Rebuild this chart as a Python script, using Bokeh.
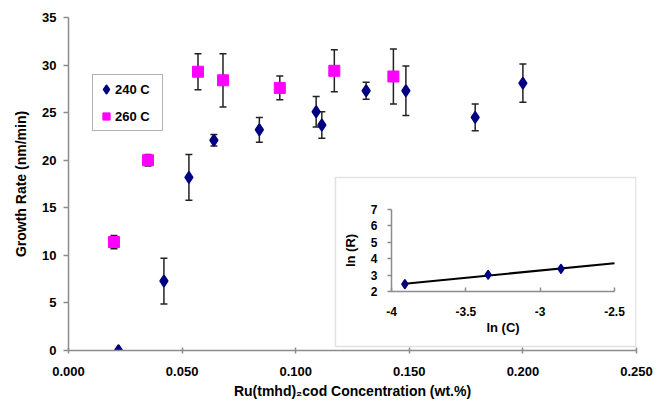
import numpy as np
from bokeh.plotting import figure
from bokeh.models import (Range1d, LinearAxis, FixedTicker, NumeralTickFormatter, Whisker,
                          TeeHead, ColumnDataSource, BoxAnnotation, Legend, LegendItem)
from bokeh.embed import file_html
from bokeh.resources import INLINE

# ---------------- data ----------------
conc_240 = [0.022, 0.042, 0.053, 0.064, 0.084, 0.109, 0.1115, 0.131, 0.1485, 0.179, 0.200]
rate_240 = [0.0, 7.3, 18.2, 22.1, 23.2, 25.1, 23.7, 27.3, 27.3, 24.5, 28.1]
err_240 = [0.0, 2.4, 2.4, 0.6, 1.3, 1.6, 1.4, 0.9, 2.6, 1.4, 2.0]

conc_260 = [0.020, 0.035, 0.057, 0.068, 0.093, 0.117, 0.143]
rate_260 = [11.4, 20.0, 29.3, 28.4, 27.6, 29.4, 28.8]
err_260 = [0.7, 0.6, 1.9, 2.8, 1.25, 2.2, 2.9]

x_ticks = [0.0, 0.05, 0.10, 0.15, 0.20, 0.25]
y_ticks = [0, 5, 10, 15, 20, 25, 30, 35]

# inset: ln(R) vs ln(C)
ln_c = [-3.91, -3.35, -2.86]
ln_r = [2.45, 3.02, 3.38]
inset_x_ticks = [-4, -3.5, -3, -2.5]
inset_y_ticks = [2, 3, 4, 5, 6, 7]
trend_end = -2.5

FONT = "Liberation Sans"
NAVY = "#000080"
MAGENTA = "#FF00FF"
AXIS_GREY = "#8c8c8c"

p = figure(width=659, height=405, output_backend="svg", toolbar_location=None,
           x_range=Range1d(0, 0.25), y_range=Range1d(0, 35),
           min_border_left=68, min_border_right=23, min_border_top=17, min_border_bottom=55)
p.outline_line_color = None
p.grid.visible = False
p.background_fill_color = "white"

# inset coordinate system mapped over the whole frame
p.extra_x_ranges = {"ix": Range1d(-6.1726, -2.352)}
p.extra_y_ranges = {"iy": Range1d(-1.598, 18.707)}

# main axes
xa = p.xaxis[0]
xa.ticker = FixedTicker(ticks=x_ticks)
xa.formatter = NumeralTickFormatter(format="0.000")
xa.axis_label = "Ru(tmhd)\u2082cod Concentration (wt.%)"
ya = p.yaxis[0]
ya.ticker = FixedTicker(ticks=y_ticks)
ya.axis_label = "Growth Rate (nm/min)"
for ax in (xa, ya):
    ax.axis_line_color = AXIS_GREY
    ax.axis_line_width = 1.5
    ax.major_tick_line_color = AXIS_GREY
    ax.major_tick_line_width = 1.5
    ax.minor_tick_line_color = None
    ax.major_label_text_font = FONT
    ax.major_label_text_font_style = "bold"
    ax.major_label_text_font_size = "13px"
    ax.major_label_text_color = "black"
    ax.axis_label_text_font = FONT
    ax.axis_label_text_font_style = "bold"
    ax.axis_label_text_font_size = "14px"
    ax.axis_label_text_color = "black"
xa.major_tick_in = 3
xa.major_tick_out = 3
xa.major_label_standoff = 13
xa.axis_label_standoff = 4
ya.major_tick_in = 0
ya.major_tick_out = 5
ya.major_label_standoff = 7
ya.axis_label_standoff = 10

# error bars
src240 = ColumnDataSource(dict(x=conc_240, y=rate_240,
                               up=[r + e for r, e in zip(rate_240, err_240)],
                               lo=[r - e for r, e in zip(rate_240, err_240)]))
src260 = ColumnDataSource(dict(x=conc_260, y=rate_260,
                               up=[r + e for r, e in zip(rate_260, err_260)],
                               lo=[r - e for r, e in zip(rate_260, err_260)]))
for s in (src240, src260):
    w = Whisker(base="x", upper="up", lower="lo", source=s,
                line_color="#222222", line_width=1.5, level="underlay",
                upper_head=TeeHead(size=7, line_color="#222222", line_width=1.5),
                lower_head=TeeHead(size=7, line_color="#222222", line_width=1.5))
    p.add_layout(w)

r240 = p.scatter("x", "y", source=src240, marker="diamond", size=10,
                 fill_color=NAVY, line_color=NAVY, line_width=2.5, line_join="round")
r260 = p.scatter("x", "y", source=src260, marker="square", size=11,
                 fill_color=MAGENTA, line_color=MAGENTA)

legend = Legend(items=[LegendItem(label="240 C", renderers=[r240]),
                       LegendItem(label="260 C", renderers=[r260])],
                location=(24, 219))
legend.label_text_font = FONT
legend.label_text_font_style = "bold"
legend.label_text_font_size = "13px"
legend.label_text_color = "black"
legend.glyph_width = 18
legend.glyph_height = 20
legend.label_height = 20
legend.label_width = 43
legend.label_standoff = 0
legend.spacing = 7
legend.padding = 4
legend.margin = 0
legend.border_line_color = "#666666"
legend.border_line_width = 1
legend.background_fill_color = "white"
p.add_layout(legend)

# inset box
box = BoxAnnotation(left=-4.377, right=-2.356, bottom=-1.35, top=8.95,
                    x_range_name="ix", y_range_name="iy",
                    fill_color="white", fill_alpha=1.0,
                    line_color="#a0a0a0", line_width=1.5, level="underlay")
p.add_layout(box)

# inset trend line (least squares)
slope, icpt = np.polyfit(ln_c, ln_r, 1)
tx = [ln_c[0], trend_end]
ty = [slope * v + icpt for v in tx]
p.line(tx, ty, x_range_name="ix", y_range_name="iy", line_color="black", line_width=2)
p.scatter(ln_c, ln_r, x_range_name="ix", y_range_name="iy", marker="diamond",
          size=8, fill_color=NAVY, line_color=NAVY, line_width=2, line_join="round")

# inset axes
ix_ax = LinearAxis(x_range_name="ix", y_range_name="iy", fixed_location=inset_y_ticks[0],
                   bounds=(inset_x_ticks[0], inset_x_ticks[-1]),
                   ticker=FixedTicker(ticks=inset_x_ticks),
                   formatter=NumeralTickFormatter(format="0.[0]"),
                   axis_label="ln (C)")
iy_ax = LinearAxis(x_range_name="ix", y_range_name="iy", fixed_location=inset_x_ticks[0],
                   bounds=(inset_y_ticks[0], inset_y_ticks[-1]),
                   ticker=FixedTicker(ticks=inset_y_ticks),
                   axis_label="ln (R)")
for ax in (ix_ax, iy_ax):
    ax.axis_line_color = AXIS_GREY
    ax.axis_line_width = 1.5
    ax.major_tick_line_color = AXIS_GREY
    ax.major_tick_line_width = 1.5
    ax.minor_tick_line_color = None
    ax.major_label_text_font = FONT
    ax.major_label_text_font_style = "bold"
    ax.major_label_text_font_size = "12px"
    ax.major_label_text_color = "black"
    ax.axis_label_text_font = FONT
    ax.axis_label_text_font_style = "bold"
    ax.axis_label_text_font_size = "13px"
    ax.axis_label_text_color = "black"
ix_ax.major_tick_in = 4
ix_ax.major_tick_out = 0
ix_ax.major_label_standoff = 16
ix_ax.axis_label_standoff = 0
iy_ax.major_tick_in = 0
iy_ax.major_tick_out = 4
iy_ax.major_label_standoff = 10
iy_ax.axis_label_standoff = 10
p.add_layout(ix_ax, "below")
p.add_layout(iy_ax, "left")

open("out.html", "w").write(file_html(p, INLINE))
